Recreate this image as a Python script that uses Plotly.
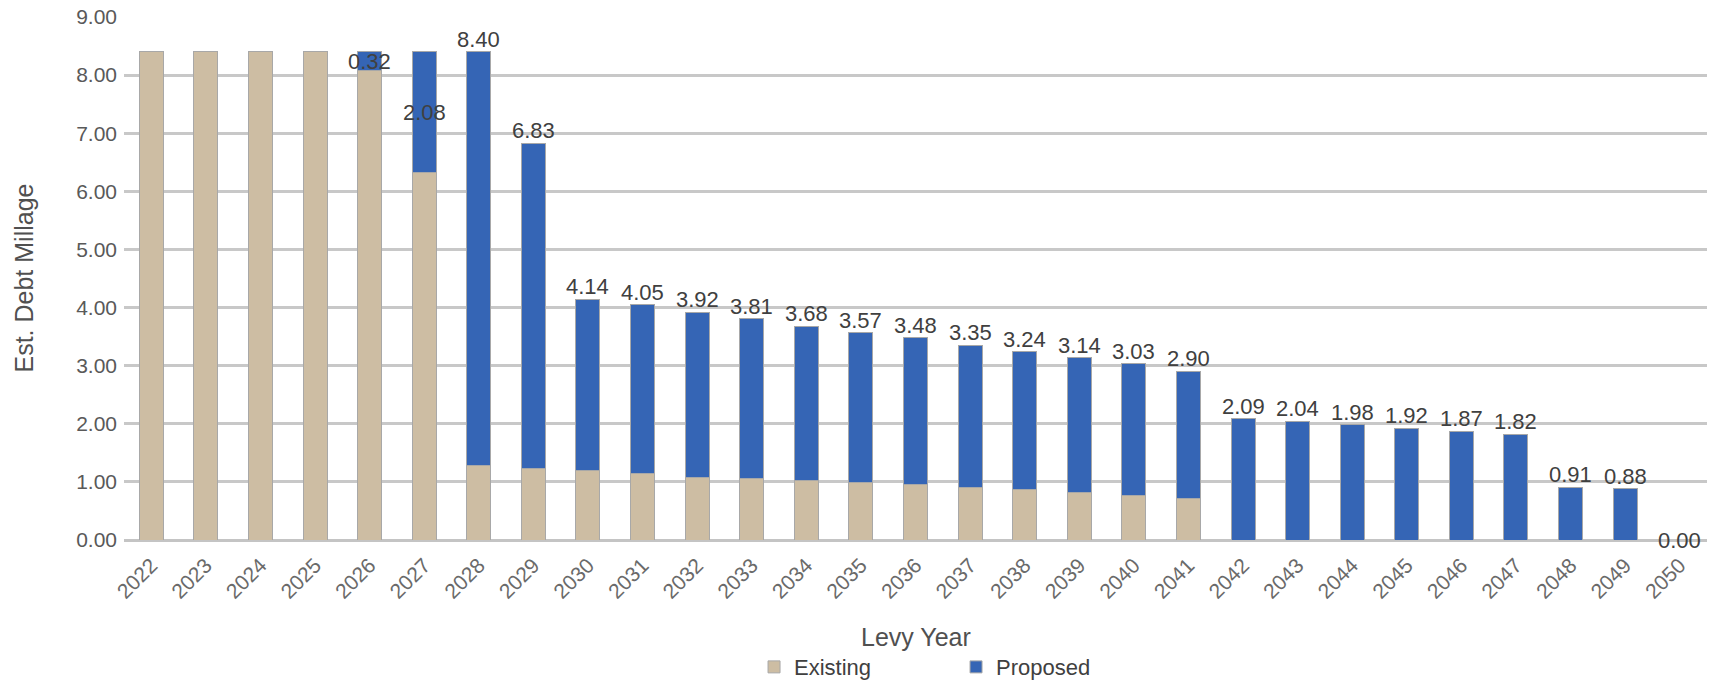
import plotly.graph_objects as go

years = [str(y) for y in range(2022, 2051)]
existing = [8.40, 8.40, 8.40, 8.40, 8.08, 6.32, 1.29, 1.23, 1.19, 1.14, 1.08, 1.05, 1.02, 0.99,
            0.96, 0.90, 0.87, 0.82, 0.77, 0.72, 0, 0, 0, 0, 0, 0, 0, 0, 0]
proposed = [0, 0, 0, 0, 0.32, 2.08, 7.11, 5.60, 2.95, 2.91, 2.84, 2.76, 2.66, 2.58,
            2.52, 2.45, 2.37, 2.32, 2.26, 2.18, 2.09, 2.04, 1.98, 1.92, 1.87, 1.82, 0.91, 0.88, 0.00]
labels = ["", "", "", "", "0.32", "2.08", "8.40", "6.83", "4.14", "4.05", "3.92", "3.81", "3.68",
          "3.57", "3.48", "3.35", "3.24", "3.14", "3.03", "2.90", "2.09", "2.04", "1.98", "1.92",
          "1.87", "1.82", "0.91", "0.88", "0.00"]
centered_label_years = {"2026", "2027", "2050"}

TAN = "#CDBDA3"
BLUE = "#3565B5"
OUTLINE = "#A8A8A8"
FONT = "Liberation Sans, Arial, sans-serif"

fig = go.Figure()
fig.add_trace(go.Bar(x=years, y=existing, name="Existing",
                     marker=dict(color=TAN, line=dict(color=OUTLINE, width=1))))
fig.add_trace(go.Bar(x=years, y=proposed, name="Proposed",
                     marker=dict(color=BLUE, line=dict(color=OUTLINE, width=1))))

for i, (yr, e, p, t) in enumerate(zip(years, existing, proposed, labels)):
    if not t:
        continue
    if yr in centered_label_years:
        fig.add_annotation(x=i, y=e + p / 2, text=t, showarrow=False, yanchor="middle",
                           font=dict(size=22, color="#404040"))
    else:
        fig.add_annotation(x=i, y=e + p, text=t, showarrow=False, yanchor="bottom", yshift=-2,
                           font=dict(size=22, color="#404040"))

# axis titles
fig.add_annotation(xref="paper", yref="paper", x=0.5006, y=-0.185, text="Levy Year",
                   showarrow=False, xanchor="center", yanchor="middle",
                   font=dict(size=25, color="#505050"))
fig.add_annotation(xref="paper", yref="paper", x=-0.0638, y=0.5, text="Est. Debt Millage",
                   textangle=-90, showarrow=False, xanchor="center", yanchor="middle",
                   font=dict(size=25, color="#505050"))

fig.update_layout(
    barmode="stack",
    bargap=0.56,
    width=1719, height=681,
    margin=dict(l=124, r=12, t=17, b=141, autoexpand=False),
    plot_bgcolor="white", paper_bgcolor="white",
    font=dict(family=FONT, color="#595959", size=22),
    legend=dict(orientation="h", x=0.398, xanchor="left", y=-0.243, yanchor="middle",
                font=dict(size=22, color="#404040"), entrywidth=157, traceorder="normal"),
    showlegend=True,
)
fig.update_xaxes(type="category", tickangle=-45, tickfont=dict(size=21, color="#6a6a6a"),
                 showline=False, ticks="", automargin=False, ticklabelstandoff=8)
fig.update_yaxes(range=[0, 9], dtick=1, tickformat=".2f", showgrid=True, gridcolor="#C8C8C8",
                 gridwidth=3, zeroline=True, zerolinecolor="#C4C4C4", zerolinewidth=3,
                 tickfont=dict(size=21, color="#595959"), ticks="", ticklabelstandoff=6,
                 automargin=False)

fig.write_html("out.html")
